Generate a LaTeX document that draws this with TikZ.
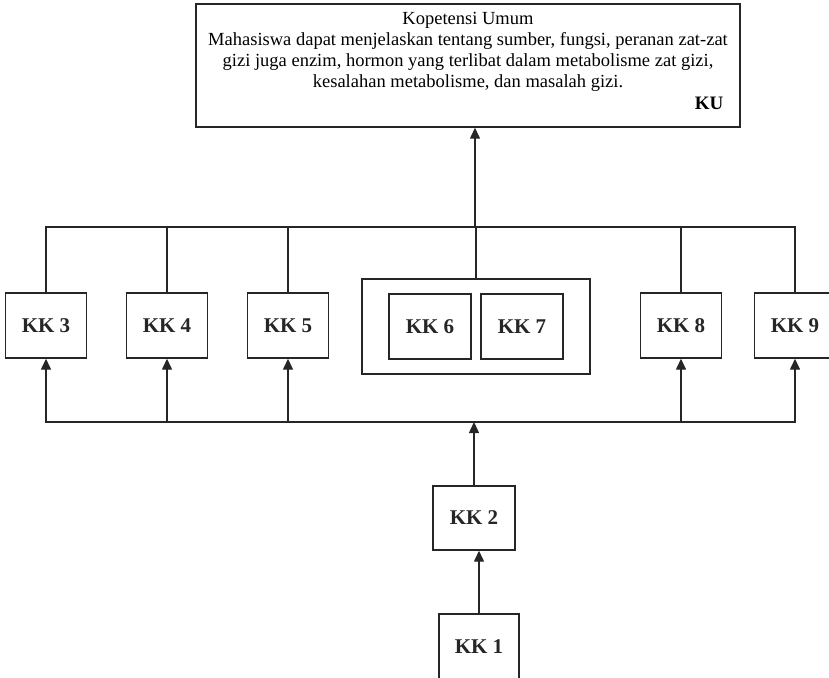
\documentclass[tikz,border=0pt]{standalone}
\usepackage{fontspec}
\setmainfont{Liberation Serif}
\usetikzlibrary{arrows.meta}
\tikzset{
    kkbox/.style={draw, line width=1.4pt, inner sep=0pt, minimum width=81pt, minimum height=65pt, font=\fontsize{21}{24}\selectfont\bfseries},
    arr/.style={line width=1.4pt, -{Triangle[width=10pt,length=11pt]}},
    line/.style={line width=1.4pt}
}

\begin{document}
\begin{tikzpicture}[x=1pt, y=-1pt, black!85]

    % Fix the frame
    \useasboundingbox (0,0) rectangle (829,677);
    \clip (0,0) rectangle (829,677);

    % Top box with the general competence
    \node[draw, line width=1.4pt, minimum width=544pt, minimum height=123pt] (ku) at (468,65.5) {};
    \node[anchor=north, align=center, font=\fontsize{18.5}{21}\selectfont, black] (kutext) at (468,8.5)
        {Kopetensi Umum\\
         Mahasiswa dapat menjelaskan tentang sumber, fungsi, peranan zat-zat\\
         gizi juga enzim, hormon yang terlibat dalam metabolisme zat gizi,\\
         kesalahan metabolisme, dan masalah gizi.};
    \node[font=\fontsize{19}{22}\selectfont\bfseries, black] (kulabel) at (709,103) {KU};

    % Row of KK boxes
    \def\rowy{325.5}
    \node[kkbox] (kk3) at (46,\rowy) {KK 3};
    \node[kkbox] (kk4) at (167,\rowy) {KK 4};
    \node[kkbox] (kk5) at (288,\rowy) {KK 5};
    \node[kkbox] (kk8) at (681,\rowy) {KK 8};
    \node[kkbox] (kk9) at (795,\rowy) {KK 9};

    % Group of KK 6 and KK 7
    \node[draw, line width=1.4pt, minimum width=228pt, minimum height=95pt] (grp) at (476,326.5) {};
    \node[kkbox, minimum width=82pt] (kk6) at (430,326.5) {KK 6};
    \node[kkbox, minimum width=82pt] (kk7) at (522,326.5) {KK 7};

    % Lower boxes
    \node[kkbox, minimum width=82pt, minimum height=64pt] (kk2) at (474,518) {KK 2};
    \node[kkbox, minimum width=80pt, minimum height=66pt] (kk1) at (479,647) {KK 1};

    % Bus lines
    \coordinate (topbus) at (475,227);
    \coordinate (botbus) at (475,422);

    % Top bus up to KU
    \foreach \n in {kk3,kk4,kk5,kk8,kk9} {
        \draw[line] (\n.north) |- (topbus);
    }
    \draw[line] (grp.north) -- (grp.north |- topbus);
    \draw[arr] (topbus) -- (topbus |- ku.south);

    % Bottom bus up to the boxes
    \foreach \n in {kk3,kk4,kk5,kk8,kk9} {
        \draw[arr] (botbus) -| (\n.south);
    }
    \draw[arr] (kk2.north) -- (kk2.north |- botbus);
    \draw[arr] (kk1.north) -- (kk1.north |- kk2.south);

\end{tikzpicture}
\end{document}
